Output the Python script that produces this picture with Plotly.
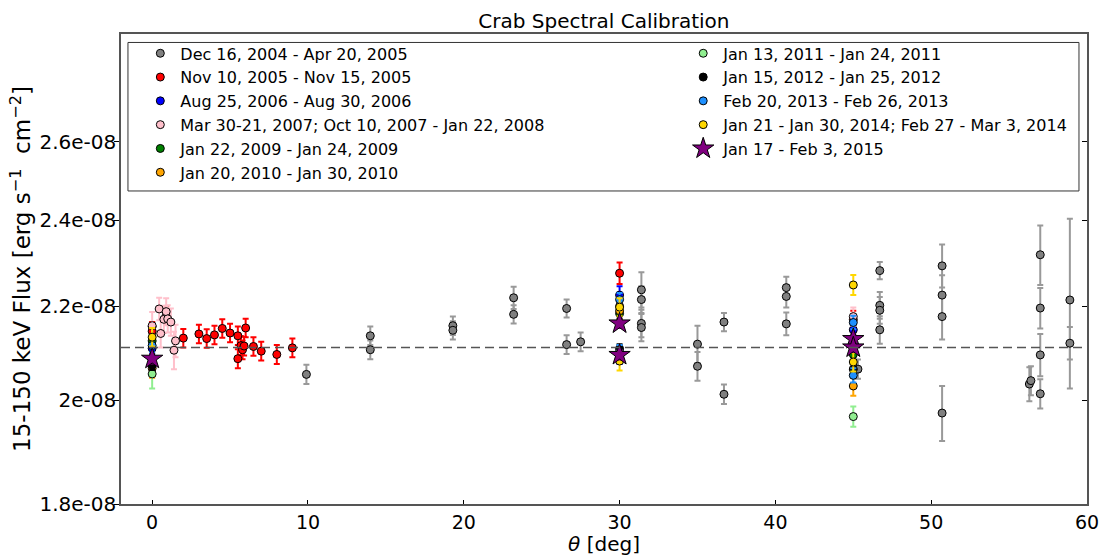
import numpy as np
import plotly.graph_objects as go

# flux values are given in units of 1e-8 erg/s/cm^2
UNIT = 1e-8

labels = [
    "Dec 16, 2004 - Apr 20, 2005",
    "Nov 10, 2005 - Nov 15, 2005",
    "Aug 25, 2006 - Aug 30, 2006",
    "Mar 30-21, 2007; Oct 10, 2007 - Jan 22, 2008",
    "Jan 22, 2009 - Jan 24, 2009",
    "Jan 20, 2010 - Jan 30, 2010",
    "Jan 13, 2011 - Jan 24, 2011",
    "Jan 15, 2012 - Jan 25, 2012",
    "Feb 20, 2013 - Feb 26, 2013",
    "Jan 21 - Jan 30, 2014; Feb 27 - Mar 3, 2014",
    "Jan 17 - Feb 3, 2015",
]
colors = ["gray", "red", "blue", "pink", "green", "orange",
          "lightgreen", "black", "dodgerblue", "gold", "purple"]

# Dec 2004 - Apr 2005
theta_2005a = [0, 9.9, 14.0, 14.0, 19.3, 19.3, 23.2, 23.2, 26.6, 26.6, 27.5,
               31.4, 31.4, 31.4, 31.4, 35.0, 35.0, 36.7, 36.7, 40.7, 40.7, 40.7,
               45.3, 46.7, 46.7, 46.7, 46.7, 50.7, 50.7, 50.7, 50.7, 56.3, 56.4,
               57.0, 57.0, 57.0, 57.0, 58.9, 58.9]
flux_2005a = [2.155, 2.053, 2.135, 2.105, 2.157, 2.147, 2.219, 2.182, 2.195, 2.116, 2.122,
              2.237, 2.215, 2.162, 2.153, 2.117, 2.070, 2.165, 2.012, 2.242, 2.222, 2.161,
              2.064, 2.281, 2.202, 2.191, 2.148, 2.292, 2.225, 2.177, 1.974, 2.033, 2.040,
              2.318, 2.196, 2.094, 2.013, 2.214, 2.119]
err_2005a = [0.01, 0.02, 0.02, 0.02, 0.02, 0.02, 0.025, 0.02, 0.02, 0.02, 0.02,
             0.04, 0.03, 0.03, 0.03, 0.04, 0.03, 0.02, 0.02, 0.025, 0.025, 0.025,
             0.02, 0.02, 0.03, 0.03, 0.03, 0.05, 0.045, 0.05, 0.055, 0.035, 0.03,
             0.07, 0.045, 0.045, 0.03, 0.19, 0.035]

# Nov 2005
theta_2005b = [0, 0.9, 2.0, 3.0, 3.5, 4.0, 4.5, 5.0, 5.5, 5.5, 5.7, 5.8, 5.9, 6.0,
               6.5, 7.0, 8.0, 9.0, 30.0, 45.0]
flux_2005b = [2.145, 2.180, 2.130, 2.139, 2.129, 2.137, 2.151, 2.141, 2.135, 2.086,
              2.114, 2.105, 2.113, 2.152, 2.112, 2.102, 2.095, 2.109, 2.275, 2.170]
err_2005b = [0.02] * 18 + [0.025, 0.02]

theta_2006 = [0, 30, 30, 45]
flux_2006 = [2.108, 2.225, 2.090, 2.148]
err_2006 = [0.015, 0.02, 0.015, 0.015]

theta_2007 = [0, 0.45, 0.55, 0.75, 0.9, 1.0, 1.2, 1.4, 1.5, 30, 45]
flux_2007 = [2.157, 2.194, 2.140, 2.171, 2.188, 2.172, 2.165, 2.104, 2.124, 2.200, 2.177]
err_2007 = [0.03, 0.025, 0.03, 0.03, 0.03, 0.03, 0.03, 0.04, 0.035, 0.02, 0.02]

theta_2009 = [0, 30, 45]
flux_2009 = [2.124, 2.184, 2.095]
err_2009 = [0.012, 0.012, 0.012]

theta_2010 = [0, 30, 45]
flux_2010 = [2.066, 2.190, 2.029]
err_2010 = [0.02, 0.02, 0.02]

theta_2011 = [0, 45]
flux_2011 = [2.054, 1.967]
err_2011 = [0.03, 0.02]

theta_2012 = [0, 30, 45]
flux_2012 = [2.072, 2.107, 2.064]
err_2012 = [0.01, 0.01, 0.01]

theta_2013 = [0, 30, 30, 45, 45]
flux_2013 = [2.114, 2.215, 2.100, 2.164, 2.051]
err_2013 = [0.015, 0.015, 0.015, 0.015, 0.015]

theta_2014 = [0, 30, 30, 45, 45]
flux_2014 = [2.132, 2.198, 2.081, 2.248, 2.079]
err_2014 = [0.02, 0.02, 0.02, 0.023, 0.02]

theta_2015 = [0, 30, 30, 45, 45]
flux_2015 = [2.086, 2.162, 2.094, 2.128, 2.110]
err_2015 = [0.01, 0.01, 0.01, 0.01, 0.01]

mean_flux = 2.11
x_range = [-2, 60]
y_range = [1.8, 2.9]
y_ticks = [1.8, 2.0, 2.2, 2.4, 2.6]
y_ticktext = ["1.8e-08", "2e-08", "2.2e-08", "2.4e-08", "2.6e-08"]

series = [
    (theta_2005a, flux_2005a, err_2005a),
    (theta_2005b, flux_2005b, err_2005b),
    (theta_2006, flux_2006, err_2006),
    (theta_2007, flux_2007, err_2007),
    (theta_2009, flux_2009, err_2009),
    (theta_2010, flux_2010, err_2010),
    (theta_2011, flux_2011, err_2011),
    (theta_2012, flux_2012, err_2012),
    (theta_2013, flux_2013, err_2013),
    (theta_2014, flux_2014, err_2014),
    (theta_2015, flux_2015, err_2015),
]

font = "DejaVu Sans"
fig = go.Figure()

# mean level, drawn on the twin axis that carries the right-hand ticks
fig.add_trace(go.Scatter(
    x=x_range, y=[mean_flux * UNIT] * 2, mode="lines", yaxis="y2",
    line=dict(color="#555555", width=1.5, dash="9px,5px"),
    showlegend=False, hoverinfo="skip",
))

for i, (th, fl, er) in enumerate(series):
    c = colors[i]
    star = i == len(series) - 1
    fig.add_trace(go.Scatter(
        x=th, y=np.array(fl) * UNIT, mode="markers", name=labels[i],
        legend="legend" if i < 6 else "legend2",
        marker=dict(color=c, symbol="star" if star else "circle",
                    size=16 if star else 8, line=dict(color="black", width=1)),
        error_y=dict(type="data", array=np.array(er) * UNIT,
                     color="#999999" if c == "gray" else c,
                     thickness=2, width=3),
    ))

y_log = np.log10(np.array(y_range) * UNIT).tolist()
tickvals = (np.array(y_ticks) * UNIT).tolist()

fig.update_layout(
    width=1104, height=556,
    margin=dict(l=121, r=17, t=34, b=52),
    paper_bgcolor="white", plot_bgcolor="white",
    font=dict(family=font, color="black"),
    title=dict(text="Crab Spectral Calibration", x=0.547, xanchor="center",
               y=0.963, yanchor="middle", font=dict(size=20)),
    xaxis=dict(range=x_range, tick0=0, dtick=10, ticks="inside", ticklen=4,
               tickcolor="black", tickfont=dict(size=19), showgrid=False,
               zeroline=False, showline=True, mirror=True, linecolor="#555555",
               linewidth=1.5, automargin=False,
               title=dict(text="<i>θ</i> [deg]", font=dict(size=20), standoff=6)),
    yaxis=dict(type="log", range=y_log, tickvals=tickvals, ticktext=y_ticktext,
               ticks="outside", ticklen=5, tickcolor="black",
               tickfont=dict(size=20), ticklabelstandoff=-6,
               showgrid=False, zeroline=False,
               showline=True, mirror=True, linecolor="#555555", linewidth=1.5,
               automargin=False,
               title=dict(text="15-150 keV Flux [erg s<sup>−1</sup>  cm<sup>−2</sup>]",
                          font=dict(size=23), standoff=2)),
    yaxis2=dict(type="log", range=y_log, tickvals=tickvals, overlaying="y",
                side="right", ticks="inside", ticklen=5, tickcolor="black",
                showticklabels=False, showgrid=False, zeroline=False,
                automargin=False),
    legend=dict(x=0.02, y=0.995, xanchor="left", yanchor="top",
                bgcolor="rgba(0,0,0,0)", borderwidth=0,
                font=dict(size=16), itemsizing="trace"),
    legend2=dict(x=0.582, y=0.995, xanchor="left", yanchor="top",
                 bgcolor="rgba(0,0,0,0)", borderwidth=0,
                 font=dict(size=16), itemsizing="trace"),
    shapes=[dict(type="rect", xref="paper", yref="paper",
                 x0=0.0072, x1=0.9917, y0=0.666, y1=0.982,
                 line=dict(color="#333333", width=1), fillcolor="white",
                 layer="below")],
)

# drop the default page margin so the figure sits at the window origin
fig.write_html("out.html", config={"displayModeBar": False},
               post_script="document.body.style.margin='0';")
